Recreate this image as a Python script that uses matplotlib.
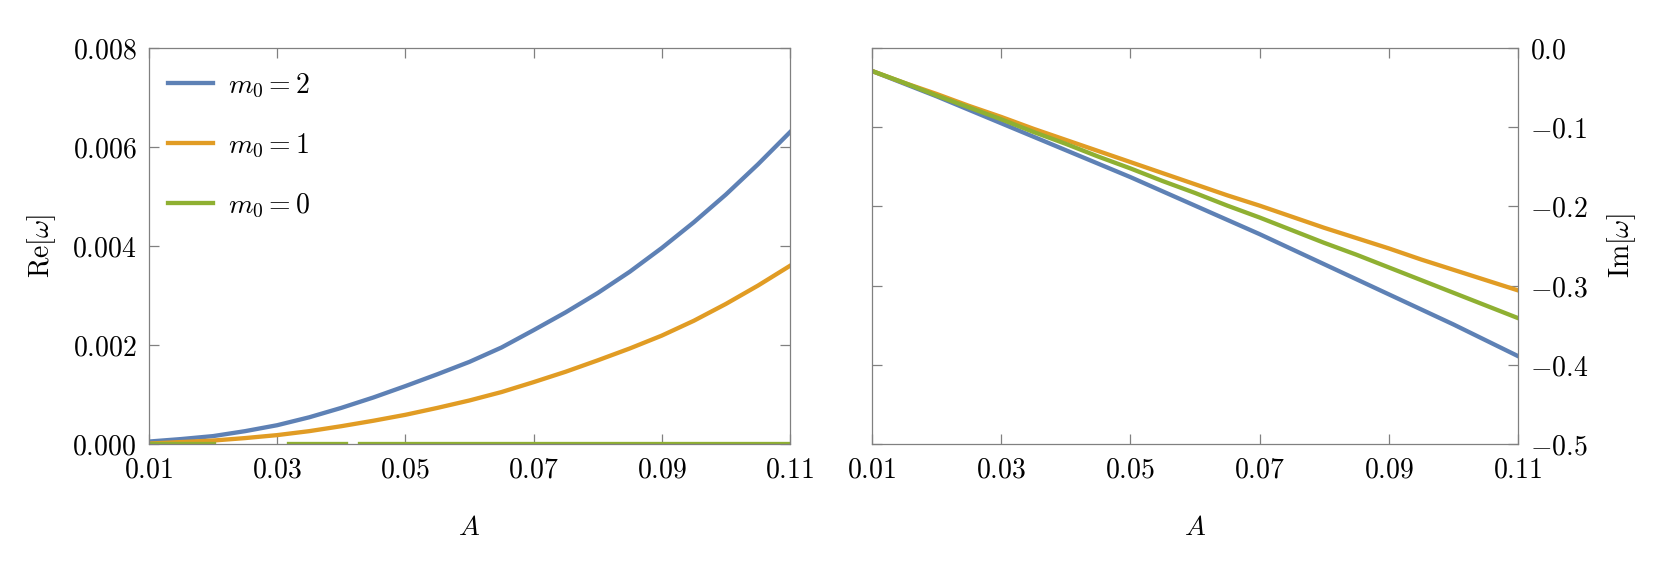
import numpy as np
import matplotlib
matplotlib.use("Agg")
import matplotlib.pyplot as plt

plt.rcParams['mathtext.fontset'] = 'cm'
plt.rcParams['font.family'] = 'serif'
plt.rcParams['font.serif'] = ['DejaVu Serif']

# amplitude A
A = [0.010, 0.015, 0.020, 0.025, 0.030, 0.035, 0.040, 0.045, 0.050, 0.055, 0.060,
     0.065, 0.070, 0.075, 0.080, 0.085, 0.090, 0.095, 0.100, 0.105, 0.110]

# Re[omega]
re_m2 = [0.00005, 0.00010, 0.00016, 0.00026, 0.00038, 0.00054, 0.00073, 0.00094, 0.00117, 0.00141, 0.00166,
         0.00195, 0.00230, 0.00266, 0.00305, 0.00348, 0.00396, 0.00448, 0.00504, 0.00565, 0.00630]
re_m1 = [0.00001, 0.00004, 0.00007, 0.00012, 0.00018, 0.00026, 0.00036, 0.00047, 0.00059, 0.00073, 0.00088,
         0.00105, 0.00125, 0.00146, 0.00169, 0.00193, 0.00219, 0.00249, 0.00283, 0.00320, 0.00360]
# m0 = 0 sits on zero, with a couple of gaps in the curve
A_m0 = [0.01, 0.0201, np.nan, 0.0318, 0.0408, np.nan, 0.0429, 0.11]
re_m0 = [0.0, 0.0, np.nan, 0.0, 0.0, np.nan, 0.0, 0.0]

# Im[omega]
im_m2 = [-0.029, -0.045, -0.061, -0.078, -0.095, -0.112, -0.129, -0.146, -0.163, -0.181, -0.199,
         -0.217, -0.235, -0.254, -0.273, -0.292, -0.311, -0.330, -0.349, -0.369, -0.389]
im_m1 = [-0.029, -0.044, -0.058, -0.073, -0.087, -0.102, -0.116, -0.130, -0.144, -0.158, -0.172,
         -0.186, -0.199, -0.213, -0.227, -0.240, -0.253, -0.267, -0.280, -0.293, -0.306]
im_m0 = [-0.029, -0.044, -0.060, -0.075, -0.090, -0.106, -0.121, -0.137, -0.152, -0.168, -0.183,
         -0.199, -0.214, -0.230, -0.246, -0.261, -0.277, -0.293, -0.309, -0.325, -0.341]

xticks = [0.01, 0.03, 0.05, 0.07, 0.09, 0.11]
re_ticks = [0.0, 0.002, 0.004, 0.006, 0.008]
im_ticks = [0.0, -0.1, -0.2, -0.3, -0.4, -0.5]

c_blue = '#5E81B5'
c_orange = '#E19C24'
c_green = '#8FB032'
lw = 3.1
fs = 20
grey = '#808080'

fig = plt.figure(figsize=(16.61, 5.67), dpi=100)
ax1 = fig.add_axes([0.0897, 0.2169, 0.3859, 0.6984])
ax2 = fig.add_axes([0.525, 0.2169, 0.3889, 0.6984])


def style(ax):
    for s in ax.spines.values():
        s.set_color(grey)
        s.set_linewidth(0.9)
    ax.tick_params(direction='in', length=7, width=0.9, color=grey,
                   top=True, bottom=True, left=True, right=True,
                   labelsize=fs, pad=9)
    ax.set_xlim(0.01, 0.11)
    ax.set_xticks(xticks)
    ax.set_xticklabels(['$%.2f$' % t for t in xticks])


# left panel
ax1.plot(A, re_m2, color=c_blue, lw=lw, label='$m_0 = 2$')
ax1.plot(A, re_m1, color=c_orange, lw=lw, label='$m_0 = 1$')
ax1.plot(A_m0, re_m0, color=c_green, lw=lw, label='$m_0 = 0$')
style(ax1)
ax1.set_ylim(0, 0.008)
ax1.set_yticks(re_ticks)
ax1.set_yticklabels(['$%.3f$' % t for t in re_ticks])
ax1.set_xlabel('$A$', fontsize=fs, labelpad=22)
ax1.set_ylabel(r'$\mathrm{Re}[\omega]$', fontsize=fs, labelpad=10)
ax1.legend(loc='upper left', bbox_to_anchor=(0.03, 0.94), frameon=False,
           fontsize=fs, handlelength=1.6, handletextpad=0.55,
           labelspacing=1.15, borderpad=0, borderaxespad=0)

# right panel
ax2.plot(A, im_m2, color=c_blue, lw=lw)
ax2.plot(A, im_m1, color=c_orange, lw=lw)
ax2.plot(A, im_m0, color=c_green, lw=lw)
style(ax2)
ax2.set_ylim(-0.5, 0)
ax2.set_yticks(im_ticks)
ax2.set_yticklabels(['$%.1f$' % t for t in im_ticks])
ax2.yaxis.tick_right()
ax2.tick_params(left=True, right=True, labelleft=False, labelright=True)
ax2.yaxis.set_label_position('right')
ax2.set_xlabel('$A$', fontsize=fs, labelpad=22)
ax2.set_ylabel(r'$\mathrm{Im}[\omega]$', fontsize=fs, labelpad=12)

fig.savefig('out.png', dpi=100)
